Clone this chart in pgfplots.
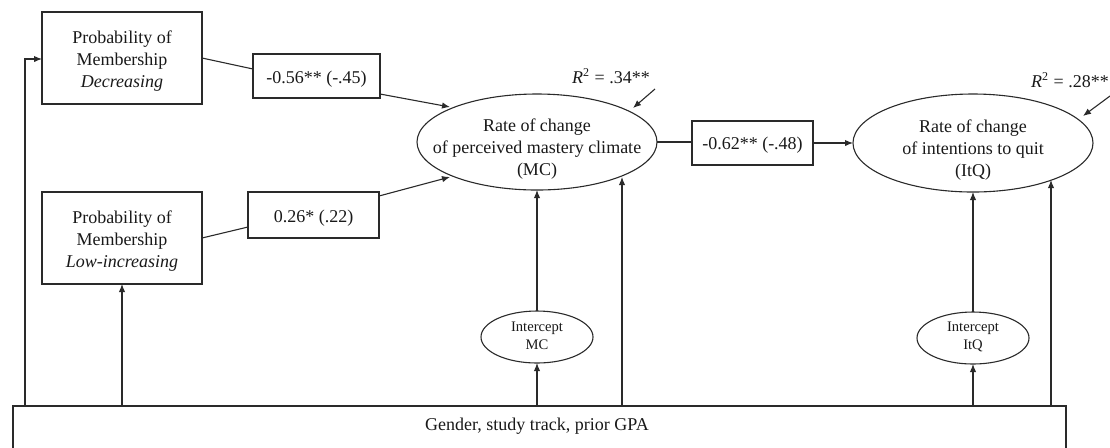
\documentclass[border=0pt]{standalone}
\usepackage{pgfplots}
\pgfplotsset{compat=1.18}
\usepackage{fontspec}
\setmainfont{Liberation Serif}
\usetikzlibrary{arrows.meta,shapes.geometric}
\definecolor{ln}{HTML}{2A2A2A}
\tikzset{
  arr/.style={-{Latex[length=4pt,width=3.2pt]}},
  bx/.style={draw=ln, line width=0.55pt, rectangle, inner sep=0pt},
  tx/.style={inner sep=0pt, align=center, text=black!90, font=\fontsize{9}{11}\selectfont},
  stx/.style={inner sep=0pt, align=center, text=black!90, font=\fontsize{7.3}{9}\selectfont},
  sel/.style={draw=ln, line width=0.55pt, ellipse, inner sep=0pt},
}
\begin{document}
\begin{tikzpicture}
\begin{axis}[width=555pt, height=223.5pt, scale only axis,
  xmin=0, xmax=1110, ymin=0, ymax=447, y dir=reverse,
  hide axis, clip=true,
  every axis plot/.append style={ln, line width=0.55pt, mark=none},
]
% bottom box (open below the picture)
\addplot[ln] coordinates {(13,470) (13,406) (1066,406) (1066,470)};
% left line to Decreasing box
\addplot[ln,arr] coordinates {(25,406) (25,59) (42,59)};
% to Low-increasing box
\addplot[ln,arr] coordinates {(122,406) (122,284)};
% Decreasing -> coefficient -> MC
\addplot[ln] coordinates {(202,58) (253,69)};
\addplot[ln,arr] coordinates {(380,94) (450,107)};
% Low-increasing -> coefficient -> MC
\addplot[ln] coordinates {(202,238) (248,227)};
\addplot[ln,arr] coordinates {(379,196) (450,177)};
% MC -> coefficient -> ItQ
\addplot[ln] coordinates {(657,142) (692,142)};
\addplot[ln,arr] coordinates {(813,143) (853,143)};
% intercept MC
\addplot[ln,arr] coordinates {(537,311) (537,190)};
\addplot[ln,arr] coordinates {(537,406) (537,363)};
\addplot[ln,arr] coordinates {(622,406) (622,177)};
% intercept ItQ
\addplot[ln,arr] coordinates {(973,312) (973,192)};
\addplot[ln,arr] coordinates {(973,406) (973,364)};
\addplot[ln,arr] coordinates {(1051,406) (1051,180)};
% R2 arrows
\addplot[ln,arr] coordinates {(655,89) (633,108)};
\addplot[ln,arr] coordinates {(1110,96) (1083,116)};

% boxes
\node[bx, minimum width=80pt, minimum height=46pt] at (axis cs:122,58) {};
\node[bx, minimum width=80pt, minimum height=46pt] at (axis cs:122,238) {};
\node[bx, minimum width=63.5pt, minimum height=22pt] at (axis cs:316.5,76) {};
\node[bx, minimum width=65.5pt, minimum height=23pt] at (axis cs:313.5,215) {};
\node[bx, minimum width=60.5pt, minimum height=22pt] at (axis cs:752.5,143) {};
% large ellipses
\draw[ln, line width=0.55pt] (axis cs:537,142) ellipse [x radius=120, y radius=48];
\draw[ln, line width=0.55pt] (axis cs:973,143) ellipse [x radius=120, y radius=49];
% small ellipses
\node[sel, minimum width=56pt, minimum height=26pt] at (axis cs:537,337) {};
\node[sel, minimum width=56pt, minimum height=26pt] at (axis cs:973,338) {};

% texts
\node[tx] at (axis cs:122,61) {Probability of\\Membership\\\textit{Decreasing}};
\node[tx] at (axis cs:122,241) {Probability of\\Membership\\\textit{Low-increasing}};
\node[tx] at (axis cs:316.5,79) {-0.56** (-.45)};
\node[tx] at (axis cs:313.5,218) {0.26* (.22)};
\node[tx] at (axis cs:752.5,145) {-0.62** (-.48)};
\node[tx] at (axis cs:537,149) {Rate of change\\of perceived mastery climate\\(MC)};
\node[tx] at (axis cs:973,150) {Rate of change\\of intentions to quit\\(ItQ)};
\node[stx] at (axis cs:537,336) {Intercept\\MC};
\node[stx] at (axis cs:973,337) {Intercept\\ItQ};
\node[tx] at (axis cs:537,426) {Gender, study track, prior GPA};
\node[tx] at (axis cs:611,76) {\textit{R}\textsuperscript{2} = .34**};
\node[tx] at (axis cs:1070,80) {\textit{R}\textsuperscript{2} = .28**};
\end{axis}
\pgfresetboundingbox
\path[use as bounding box] (current axis.south west) rectangle (current axis.north east);
\end{tikzpicture}
\end{document}
